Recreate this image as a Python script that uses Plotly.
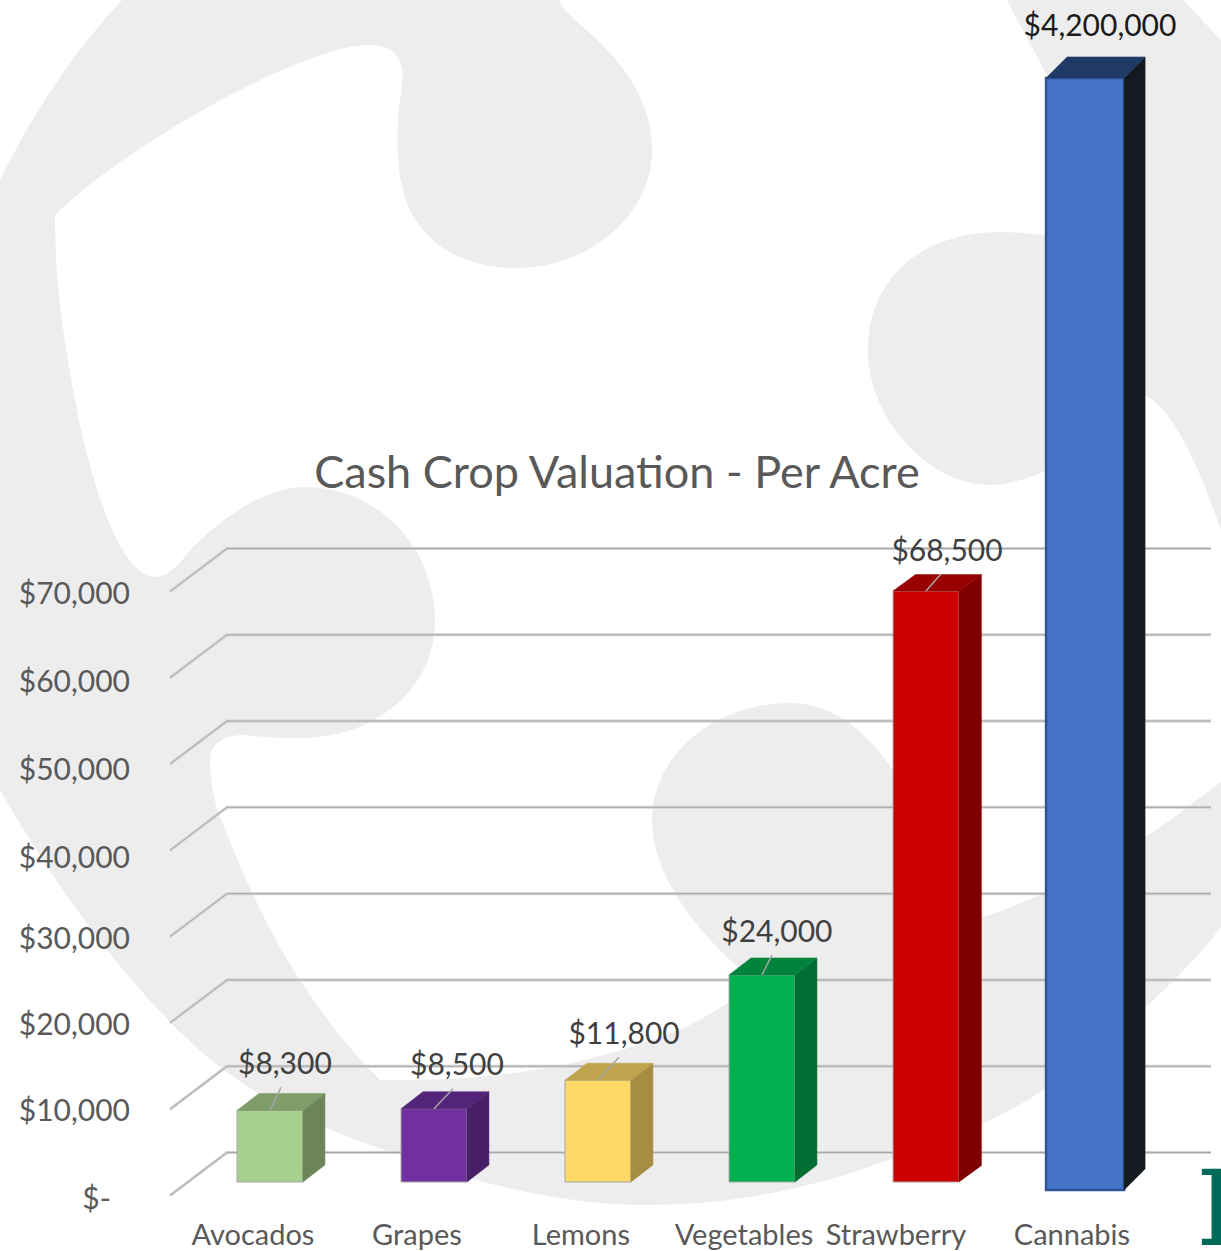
import re
import plotly.graph_objects as go

# ---- data ----
categories = ["Avocados", "Grapes", "Lemons", "Vegetables", "Strawberry", "Cannabis"]
values = [8300, 8500, 11800, 24000, 68500, 4200000]
# Cannabis is far off the scale: the original draws it as a broken bar
drawn_tops = [8300, 8500, 11800, 24000, 68500, 127950]
drawn_bases = [0, 0, 0, 0, 0, -930]
bar_slots = [0, 1, 2, 3, 4, 4.97]
bar_widths = [0.402, 0.402, 0.402, 0.402, 0.402, 0.476]
label_slots = [-0.104, 0.896, 1.896, 2.89, 3.817, 4.89]
front_colors = ["#A9D18E", "#7030A0", "#FFD966", "#00B050", "#CC0000", "#4472C4"]
top_colors = ["#7F9D6B", "#54237A", "#BFA34D", "#00843C", "#990000", "#203A68"]
side_colors = ["#6B8559", "#481E66", "#A68D42", "#006E33", "#800000", "#141A20"]
outline_colors = ["#A6A6A6", "#A6A6A6", "#A6A6A6", "#A6A6A6", "#B0A0A0", "#2F5597"]
outline_widths = [1, 1, 1, 1, 1, 2.5]
depth_x = [0.134, 0.134, 0.134, 0.134, 0.137, 0.128]
depth_y = [1970, 1970, 1970, 1970, 1900, 2450]
leader_dx = [0.067, 0.116, 0.128, 0.061, 0.091]
leader_dy = [2660, 2320, 2660, 2320, 1970]
data_label_x = [0.091, 1.14, 2.159, 3.091, 4.128, 5.061]
data_label_y = [13340, 13240, 16840, 28650, 72800, 133670]
data_label_colors = ["#404040"] * 5 + ["#1A1A1A"]
grid_values = [0, 10000, 20000, 30000, 40000, 50000, 60000, 70000]
axis_labels = ["$-\u00a0\u00a0\u2009", "$10,000", "$20,000", "$30,000", "$40,000", "$50,000", "$60,000", "$70,000"]
# the labels of the value axis are not evenly spaced in the original
axis_label_values = [0, 10170, 20120, 30070, 39440, 49620, 59800, 70000]

# ---- page geometry ----
W, H = 1221, 1251
PLOT_BOTTOM = 1215
PX_PER_USD = 0.008628
ZERO_PX = 1182
X0_PX, SLOT_PX = 270, 164
x_range = [(0 - X0_PX) / SLOT_PX, (W - X0_PX) / SLOT_PX]
y_range = [(ZERO_PX - PLOT_BOTTOM) / PX_PER_USD, ZERO_PX / PX_PER_USD]
# tick labels sit on their own scale: $- at 1198 px, $70,000 at 593 px
L_SCALE = (1198 - 593) / 70000
y2_range = [(1198 - PLOT_BOTTOM) / L_SCALE, 1198 / L_SCALE]

FONT = "Lato, Carlito, Calibri, sans-serif"
TXT = "#595959"
WM = "#EDEDED"


def to_paper(path):
    tokens = re.findall(r"[A-Za-z]|-?[\d.]+", path)
    out, is_x = [], True
    for t in tokens:
        if t.isalpha():
            out.append(t)
            is_x = True
        else:
            v = float(t)
            out.append(f"{v / W:.5f}," if is_x else f"{(PLOT_BOTTOM - v) / PLOT_BOTTOM:.5f} ")
            is_x = not is_x
    return "".join(out)


outer = ("M122,0 C75,50 35,110 0,180 L0,790 C40,860 100,950 170,1022 C240,1095 320,1130 400,1155 "
         "C450,1175 550,1205 647,1205 C740,1205 820,1185 880,1163 C920,1150 960,1137 981,1125 "
         "C1010,1110 1030,1100 1046,1088 C1080,1065 1115,1035 1145,1008 C1175,980 1200,955 1221,927 "
         "L1221,40 L1183,0 Z")
inner = ("M55,215 C120,150 300,45 370,45 C395,45 405,60 402,85 C395,130 395,180 410,210 "
         "C430,250 470,268 515,268 C590,268 652,215 652,150 C652,90 610,50 575,20 C565,10 560,5 560,0 "
         "L1007,0 L1060,100 L1060,238 C1040,234 1020,232 1000,232 C920,232 868,280 868,350 "
         "C868,420 930,485 990,485 C1010,485 1030,478 1060,465 L1120,395 L1145,395 "
         "C1175,410 1200,470 1221,530 L1221,782 C1190,805 1165,825 1145,837 C1100,865 1050,895 981,918 "
         "L960,925 C940,880 925,800 893,770 C860,722 825,703 790,703 C715,703 652,755 652,820 "
         "C652,870 690,925 738,967 L750,985 C735,1000 700,1022 667,1035 C620,1052 580,1062 547,1068 "
         "C500,1076 450,1081 380,1080 C340,1040 320,1010 300,980 C270,935 245,880 220,817 "
         "C212,795 210,775 210,760 C210,745 222,735 245,735 C270,738 290,738 300,738 "
         "C375,738 435,690 435,620 C435,550 380,487 305,487 C260,487 215,525 190,550 "
         "C175,570 165,577 155,577 C120,577 90,480 75,400 C60,320 55,270 55,215 Z")

shapes = [
    dict(type="path", xref="paper", yref="paper", path=to_paper(outer), fillcolor=WM, line_width=0, layer="below"),
    dict(type="path", xref="paper", yref="paper", path=to_paper(inner), fillcolor="#FFFFFF", line_width=0, layer="below"),
]

# gridlines: a floor diagonal then the back wall
GX_LEFT, GX_BACK, GX_RIGHT = (170 - X0_PX) / SLOT_PX, (227 - X0_PX) / SLOT_PX, (1211 - X0_PX) / SLOT_PX
for v in grid_values:
    p = f"M{GX_LEFT},{v - 1560} L{GX_BACK},{v + 3420} L{GX_RIGHT},{v + 3420}"
    for color, width in (("#D2D2D2", 3), ("#A8A8A8", 1)):
        shapes.append(dict(type="path", xref="x", yref="y", path=p,
                           line=dict(color=color, width=width), layer="below"))

fig = go.Figure()

# front faces
fig.add_trace(go.Bar(
    x=bar_slots,
    y=[t - b for t, b in zip(drawn_tops, drawn_bases)],
    base=drawn_bases,
    width=bar_widths,
    marker=dict(color=front_colors, line=dict(color=outline_colors, width=outline_widths)),
    hoverinfo="skip",
    showlegend=False,
))

# side and top faces
for i in range(len(categories)):
    xl = bar_slots[i] - bar_widths[i] / 2
    xr = bar_slots[i] + bar_widths[i] / 2
    t, b, dx, dy = drawn_tops[i], drawn_bases[i], depth_x[i], depth_y[i]
    fig.add_trace(go.Scatter(x=[xr, xr + dx, xr + dx, xr, xr], y=[b, b + dy, t + dy, t, b],
                             fill="toself", fillcolor=side_colors[i], mode="lines",
                             line=dict(color=side_colors[i], width=0.5), hoverinfo="skip", showlegend=False))
    fig.add_trace(go.Scatter(x=[xl, xl + dx, xr + dx, xr, xl], y=[t, t + dy, t + dy, t, t],
                             fill="toself", fillcolor=top_colors[i], mode="lines",
                             line=dict(color=top_colors[i], width=0.5), hoverinfo="skip", showlegend=False))

# leader lines of the data labels
for i in range(5):
    fig.add_trace(go.Scatter(x=[bar_slots[i], bar_slots[i] + leader_dx[i]],
                             y=[drawn_tops[i], drawn_tops[i] + leader_dy[i]],
                             mode="lines", line=dict(color="#A6A6A6", width=1.5),
                             hoverinfo="skip", showlegend=False))

# data labels
fig.add_trace(go.Scatter(x=data_label_x, y=data_label_y, mode="text",
                         text=[f"${v:,}" for v in values],
                         textposition="middle center",
                         textfont=dict(family=FONT, size=30, color=data_label_colors),
                         hoverinfo="skip", showlegend=False))

# carrier of the value-axis labels
fig.add_trace(go.Scatter(x=[x_range[0]] * len(grid_values), y=grid_values, yaxis="y2", mode="markers",
                         marker=dict(opacity=0), hoverinfo="skip", showlegend=False))

fig.update_layout(
    width=W, height=H,
    autosize=False,
    margin=dict(l=0, r=0, t=0, b=H - PLOT_BOTTOM, pad=0),
    paper_bgcolor="#FFFFFF",
    plot_bgcolor="rgba(0,0,0,0)",
    showlegend=False,
    font=dict(family=FONT, color=TXT),
    title=dict(text="Cash Crop Valuation - Per Acre", x=617 / W, xanchor="center", xref="paper",
               y=1 - 472 / H, yref="container", yanchor="middle",
               font=dict(family=FONT, size=45, color=TXT)),
    xaxis=dict(range=x_range, tickmode="array", tickvals=label_slots, ticktext=categories,
               showgrid=False, zeroline=False, showline=False, ticks="",
               tickfont=dict(family=FONT, size=29, color=TXT)),
    yaxis=dict(range=y_range, visible=False, showgrid=False, zeroline=False),
    yaxis2=dict(range=y2_range, overlaying="y", anchor="free", position=130 / W, side="left",
                tickmode="array", tickvals=axis_label_values, ticktext=axis_labels,
                showgrid=False, zeroline=False, showline=False, ticks="",
                tickfont=dict(family=FONT, size=30, color=TXT)),
    shapes=shapes,
    annotations=[dict(text="<b>H</b>", xref="paper", yref="paper", x=1195 / W, y=(PLOT_BOTTOM - 1208) / PLOT_BOTTOM,
                      xanchor="left", yanchor="middle", showarrow=False,
                      font=dict(family="DejaVu Serif", size=104, color="#006B5B"))],
)

fig.write_html("out.html", post_script="document.body.style.margin='0';", config={"displayModeBar": False})
